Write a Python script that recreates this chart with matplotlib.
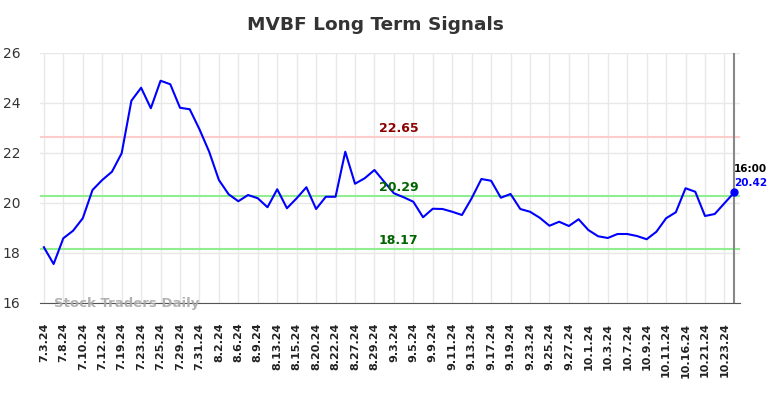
import matplotlib
matplotlib.use("Agg")
import matplotlib.pyplot as plt

# closing prices, one per trading session (every other session is labelled)
prices = [
    18.23, 17.56, 18.59, 18.89, 19.39, 20.52, 20.92, 21.25, 21.99, 24.09,
    24.61, 23.79, 24.89, 24.75, 23.81, 23.75, 22.95, 22.05, 20.92, 20.35,
    20.07, 20.32, 20.19, 19.83, 20.55, 19.79, 20.19, 20.63, 19.76, 20.25,
    20.25, 22.05, 20.77, 20.99, 21.32, 20.85, 20.39, 20.23, 20.05, 19.43,
    19.77, 19.76, 19.65, 19.52, 20.19, 20.96, 20.89, 20.21, 20.36, 19.76,
    19.65, 19.41, 19.09, 19.25, 19.08, 19.35, 18.92, 18.67, 18.60, 18.76,
    18.76, 18.68, 18.55, 18.85, 19.39, 19.63, 20.59, 20.45, 19.48, 19.56,
    19.99, 20.42,
]
tick_labels = [
    "7.3.24", "7.8.24", "7.10.24", "7.12.24", "7.19.24", "7.23.24", "7.25.24",
    "7.29.24", "7.31.24", "8.2.24", "8.6.24", "8.9.24", "8.13.24", "8.15.24",
    "8.20.24", "8.22.24", "8.27.24", "8.29.24", "9.3.24", "9.5.24", "9.9.24",
    "9.11.24", "9.13.24", "9.17.24", "9.19.24", "9.23.24", "9.25.24", "9.27.24",
    "10.1.24", "10.3.24", "10.7.24", "10.9.24", "10.11.24", "10.16.24",
    "10.21.24", "10.23.24",
]
resistance = 22.65
support_levels = [20.29, 18.17]
last_time = "16:00"

fig = plt.figure(figsize=(7.84, 3.98), dpi=100)
ax = fig.add_axes([40 / 784, 95 / 398, 700 / 784, 250 / 398])

x = list(range(len(prices)))
ax.plot(x, prices, color="blue", lw=1.5, zorder=3)
last = len(prices) - 1
ax.scatter([last], [prices[-1]], color="blue", s=25, zorder=4)

# signal levels
ax.axhline(resistance, color="#ffcccc", lw=1.5, zorder=2)
for lvl in support_levels:
    ax.axhline(lvl, color="#90ee90", lw=1.5, zorder=2)

mid = 36.5
ax.text(mid, resistance + 0.08, f"{resistance:.2f}", color="#8b0000",
        fontsize=9, fontweight="bold", ha="center", va="bottom")
for lvl in support_levels:
    ax.text(mid, lvl + 0.08, f"{lvl:.2f}", color="#006400",
            fontsize=9, fontweight="bold", ha="center", va="bottom")

ax.text(last, 21.36, last_time, color="black", fontsize=7.5,
        fontweight="bold", ha="left", va="center")
ax.text(last, 20.8, f"{prices[-1]:.2f}", color="blue", fontsize=7.5,
        fontweight="bold", ha="left", va="center")

ax.text(1, 16.0, "Stock Traders Daily", color="#aaaaaa", fontsize=9.5,
        fontweight="bold", ha="left", va="center", alpha=0.9, zorder=5)

fig.text(375 / 784, 1 - 25 / 398, "MVBF Long Term Signals", fontsize=13.3,
         fontweight="bold", color="#333333", ha="center", va="center")

ax.set_xlim(-0.4, 71.6)
ax.set_ylim(16, 26)
ax.set_yticks([16, 18, 20, 22, 24, 26])
ax.set_xticks(range(0, len(prices), 2))
ax.set_xticklabels(tick_labels, rotation=90, fontsize=8, fontweight="bold")
ax.tick_params(axis="y", labelsize=10, length=0, colors="#333333", pad=14)
ax.tick_params(axis="x", length=0, colors="#222222", pad=14)

ax.grid(True, color="#e8e8e8", lw=1)
ax.set_axisbelow(True)
for side in ["top", "left", "right"]:
    ax.spines[side].set_visible(False)
ax.spines["bottom"].set_color("#555555")
ax.axvline(last, color="#888888", lw=1.5, zorder=2)

fig.savefig("out.png", dpi=100)
